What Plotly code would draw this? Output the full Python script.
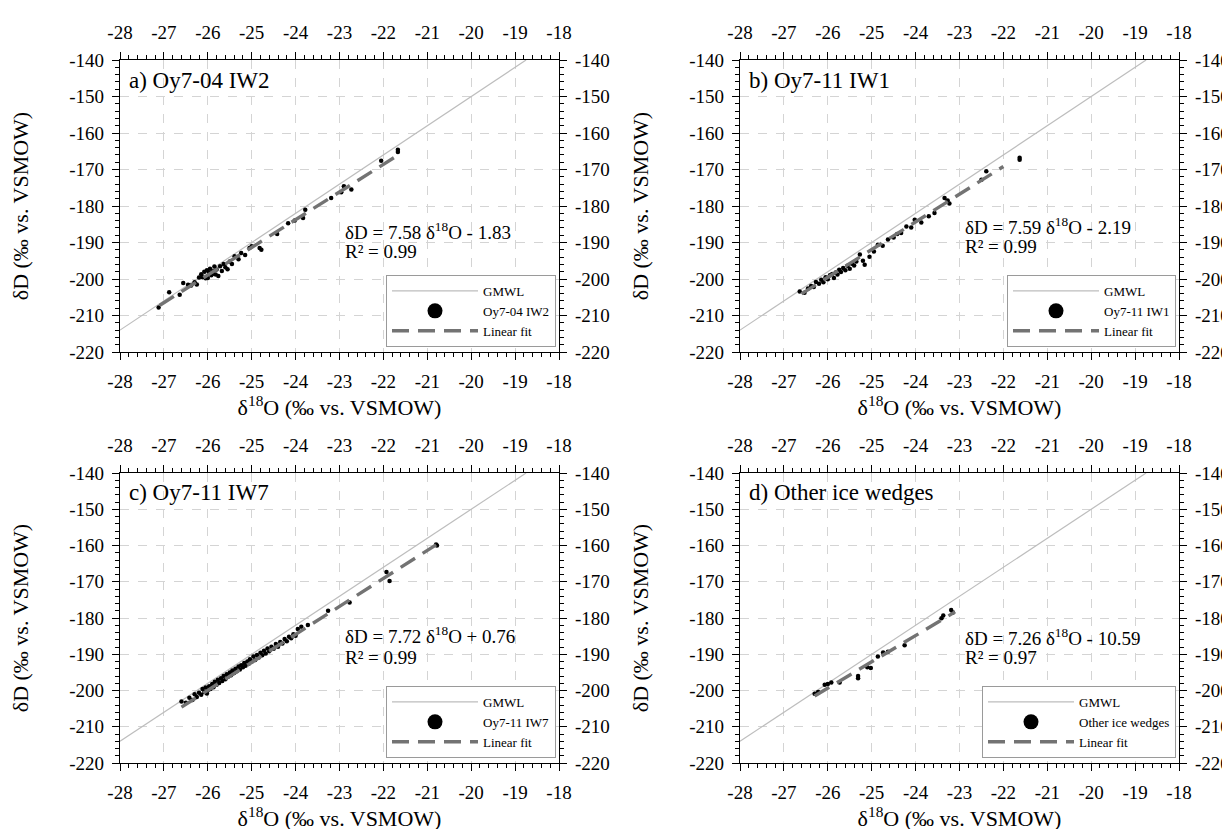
import plotly.graph_objects as go

# ---------------- data ----------------
panel_labels = ["a) Oy7-04 IW2", "b) Oy7-11 IW1", "c) Oy7-11 IW7", "d) Other ice wedges"]
series_names = ["Oy7-04 IW2", "Oy7-11 IW1", "Oy7-11 IW7", "Other ice wedges"]
equations = ["δD = 7.58 δ<sup>18</sup>O - 1.83", "δD = 7.59 δ<sup>18</sup>O - 2.19",
             "δD = 7.72 δ<sup>18</sup>O + 0.76", "δD = 7.26 δ<sup>18</sup>O - 10.59"]
r2_texts = ["R² = 0.99", "R² = 0.99", "R² = 0.99", "R² = 0.97"]

x_ticks = [-28, -27, -26, -25, -24, -23, -22, -21, -20, -19, -18]
x_ticklabels = ["-28", "-27", "-26", "-25", "-24", "-23", "-22", "-21", "-20", "-19", "-18"]
y_ticks = [-220, -210, -200, -190, -180, -170, -160, -150, -140]
y_ticklabels = ["-220", "-210", "-200", "-190", "-180", "-170", "-160", "-150", "-140"]

a_x = [-27.12, -26.88, -26.64, -26.56, -26.45, -26.38, -26.3, -26.25, -26.2, -26.15, -26.12, -26.08,
       -26.05, -26.02, -26.0, -25.97, -25.95, -25.92, -25.9, -25.88, -25.85, -25.82, -25.8, -25.76,
       -25.72, -25.68, -25.64, -25.6, -25.55, -25.5, -25.45, -25.39, -25.3, -25.24, -25.15, -25.05,
       -25.0, -24.82, -24.78, -24.42, -24.17, -24.02, -23.83, -23.78, -23.19, -22.96, -22.9, -22.73,
       -22.05, -21.67, -21.67]
a_y = [-207.8, -203.6, -204.3, -201.1, -201.6, -201.8, -200.9, -201.5, -199.6, -198.7, -199.5, -198.0,
       -199.8, -197.6, -199.7, -198.3, -197.2, -199.0, -198.6, -197.9, -196.6, -198.8, -197.4, -199.2,
       -196.5, -197.8, -195.9, -196.8, -197.3, -195.2, -195.9, -193.8, -194.6, -192.9, -193.4, -191.5,
       -191.0, -191.5, -192.0, -187.7, -184.7, -184.0, -183.3, -181.0, -177.8, -176.2, -174.6, -175.5,
       -167.6, -164.6, -165.2]

b_x = [-26.64, -26.53, -26.45, -26.38, -26.32, -26.27, -26.2, -26.15, -26.1, -26.05, -26.0, -25.95,
       -25.9, -25.86, -25.82, -25.78, -25.74, -25.7, -25.65, -25.6, -25.55, -25.5, -25.45, -25.4,
       -25.35, -25.27, -25.2, -25.16, -25.05, -24.95, -24.86, -24.75, -24.63, -24.5, -24.42, -24.33,
       -24.21, -24.1, -24.02, -23.87, -23.7, -23.57, -23.34, -23.27, -23.23, -22.5, -22.39, -21.63, -21.63]
b_y = [-203.4, -203.8, -202.6, -201.9, -202.2, -200.8, -201.3, -200.2, -200.9, -199.5, -200.1, -199.0,
       -198.6, -199.7, -198.2, -198.8, -197.5, -198.1, -197.0, -197.6, -196.4, -197.2, -195.8, -196.3,
       -195.2, -193.3, -195.0, -196.1, -193.9, -192.5, -190.6, -190.9, -189.2, -188.6, -187.7, -187.4,
       -185.6, -185.9, -183.8, -184.5, -182.8, -181.9, -177.8, -178.5, -179.3, -172.8, -170.5, -166.8, -167.3]

c_x = [-26.6, -26.5, -26.42, -26.35, -26.3, -26.25, -26.2, -26.15, -26.12, -26.08, -26.05, -26.02,
       -26.0, -25.97, -25.94, -25.9, -25.87, -25.84, -25.8, -25.77, -25.74, -25.7, -25.67, -25.64,
       -25.6, -25.57, -25.54, -25.5, -25.47, -25.44, -25.4, -25.37, -25.34, -25.3, -25.27, -25.24,
       -25.2, -25.17, -25.14, -25.1, -25.07, -25.04, -25.0, -24.96, -24.92, -24.88, -24.84, -24.8,
       -24.76, -24.72, -24.68, -24.64, -24.6, -24.55, -24.5, -24.45, -24.4, -24.35, -24.3, -24.25,
       -24.2, -24.15, -24.1, -24.05, -24.0, -23.95, -23.87, -23.72, -23.26, -22.77, -21.93, -21.86,
       -20.8, -20.78]
c_y = [-203.0, -203.4, -202.0, -202.6, -201.0, -201.8, -200.6, -201.2, -199.6, -200.4, -199.2, -200.8,
       -199.9, -198.8, -199.6, -198.2, -199.1, -197.6, -198.4, -197.0, -197.9, -196.6, -197.4, -196.0,
       -196.9, -195.5, -196.2, -195.0, -195.8, -194.5, -195.2, -194.0, -194.7, -193.4, -194.2, -193.0,
       -193.6, -192.4, -193.2, -192.0, -192.6, -191.4, -192.0, -190.6, -191.6, -190.2, -190.9, -189.6,
       -190.3, -189.0, -189.8, -188.4, -189.2, -187.9, -188.5, -187.2, -187.9, -186.6, -187.0, -185.8,
       -186.4, -185.2, -185.6, -184.5, -184.9, -183.0, -182.4, -181.9, -178.0, -175.7, -167.3, -169.8,
       -159.7, -160.0]

d_x = [-26.3, -26.22, -26.07, -26.0, -25.92, -25.73, -25.31, -25.31, -25.1, -25.02, -24.86, -24.74,
       -24.63, -24.25, -23.41, -23.37, -23.19, -23.15]
d_y = [-200.9, -200.4, -198.4, -198.2, -197.8, -197.8, -196.0, -196.6, -193.6, -193.8, -190.6, -189.5,
       -189.3, -187.5, -180.1, -179.3, -177.8, -178.5]

gmwl_x = [-28.0, -18.75]
gmwl_y = [-214.0, -140.0]

fit_x = [[-27.1, -21.6], [-26.6, -22.0], [-26.6, -20.8], [-26.3, -23.1]]
fit_y = [[-207.25, -165.56], [-204.08, -169.17], [-204.59, -159.82], [-201.53, -178.30]]

eq_pos_x = [-22.93, -22.93, -22.93, -22.93]
eq_pos_y = [-186.8, -185.6, -184.8, -185.2]
r2_pos_y = [-192.4, -191.2, -190.9, -191.0]

xs = [a_x, b_x, c_x, d_x]
ys = [a_y, b_y, c_y, d_y]

# ---------------- layout geometry (pixels) ----------------
W, H = 1230, 829
px_x = [(112, 551), (732, 1171), (112, 551), (732, 1171)]
px_y = [(52, 344), (52, 344), (465, 755), (465, 755)]

FONT = "Liberation Serif"
serif_font = lambda size: dict(family=FONT, size=size, color="black")

fig = go.Figure()


def ax_name(kind, i):
    return kind + ("" if i == 1 else str(i))


for p in range(4):
    i = p + 1
    xr, yr = ax_name("x", i), ax_name("y", i)
    xt, yt = "x" + str(i + 4), "y" + str(i + 4)
    lg = "legend" if i == 1 else "legend" + str(i)

    fig.add_trace(go.Scatter(x=gmwl_x, y=gmwl_y, mode="lines", name="GMWL",
                             line=dict(color="#bdbdbd", width=1.2),
                             xaxis=xr, yaxis=yr, legend=lg))
    fig.add_trace(go.Scatter(x=xs[p], y=ys[p], mode="markers", name=series_names[p],
                             marker=dict(color="black", size=4.5), showlegend=False,
                             xaxis=xr, yaxis=yr, legend=lg))
    fig.add_trace(go.Scatter(x=[None], y=[None], mode="markers", name=series_names[p],
                             marker=dict(color="black", size=15),
                             xaxis=xr, yaxis=yr, legend=lg))
    fig.add_trace(go.Scatter(x=fit_x[p], y=fit_y[p], mode="lines", name="Linear fit",
                             line=dict(color="#737373", width=3.4, dash="17px,9px"),
                             xaxis=xr, yaxis=yr, legend=lg))
    # helper traces for mirrored (top / right) labelled axes
    fig.add_trace(go.Scatter(x=[None], y=[None], xaxis=xt, yaxis=yr, showlegend=False,
                             hoverinfo="skip"))
    fig.add_trace(go.Scatter(x=[None], y=[None], xaxis=xr, yaxis=yt, showlegend=False,
                             hoverinfo="skip"))

    xd = [px_x[p][0] / W, px_x[p][1] / W]
    yd = [1 - px_y[p][1] / H, 1 - px_y[p][0] / H]

    def common_x():
        return dict(range=[-28, -18], tickmode="array", tickvals=x_ticks, ticktext=x_ticklabels,
                    showline=True, linecolor="black",
                    linewidth=1.3, ticks="outside", ticklen=7, tickwidth=1.3, tickcolor="black",
                    ticklabelstandoff=5,
                    minor=dict(dtick=0.2, tick0=-28, ticks="outside", ticklen=4, tickwidth=1,
                               tickcolor="black", showgrid=False),
                    tickfont=serif_font(19), zeroline=False, automargin=False)

    def common_y():
        return dict(range=[-220, -140], tickmode="array", tickvals=y_ticks, ticktext=y_ticklabels,
                    showline=True, linecolor="black",
                    linewidth=1.3, ticks="outside", ticklen=7, tickwidth=1.3, tickcolor="black",
                    ticklabelstandoff=4,
                    minor=dict(dtick=2, tick0=-220, ticks="outside", ticklen=4, tickwidth=1,
                               tickcolor="black", showgrid=False),
                    tickfont=serif_font(19), zeroline=False, automargin=False)

    fig.update_layout({
        ax_name("xaxis", i): dict(
            domain=xd, anchor=yr, side="bottom", showgrid=True, griddash="dash",
            gridcolor="#d4d4d4", gridwidth=1,
            title=dict(text="δ<sup>18</sup>O (‰ vs. VSMOW)", standoff=0, font=serif_font(22)),
            **common_x()),
        ax_name("yaxis", i): dict(
            domain=yd, anchor=xr, side="left", showgrid=True, griddash="dash",
            gridcolor="#d4d4d4", gridwidth=1,
            title=dict(text="δD (‰ vs. VSMOW)", standoff=34, font=serif_font(22)),
            **common_y()),
        "xaxis" + str(i + 4): dict(overlaying=xr, anchor=yr, side="top", showgrid=False,
                                   **common_x()),
        "yaxis" + str(i + 4): dict(overlaying=yr, anchor=xr, side="right", showgrid=False,
                                   **common_y()),
        lg: dict(
            x=(px_x[p][1] - 3) / W, y=1 - (px_y[p][1] - 5) / H, xanchor="right", yanchor="bottom",
            bgcolor="white", bordercolor="#9a9a9a", borderwidth=1,
            font=serif_font(13), itemwidth=86, itemsizing="trace", tracegroupgap=0),
    })

    fig.add_annotation(x=-27.85, y=-145.5, xref=xr, yref=yr, text=panel_labels[p],
                       showarrow=False, xanchor="left", yanchor="middle", font=serif_font(23))
    fig.add_annotation(x=eq_pos_x[p], y=eq_pos_y[p], xref=xr, yref=yr, text=equations[p],
                       showarrow=False, xanchor="left", yanchor="middle", font=serif_font(19))
    fig.add_annotation(x=eq_pos_x[p], y=r2_pos_y[p], xref=xr, yref=yr, text=r2_texts[p],
                       showarrow=False, xanchor="left", yanchor="middle", font=serif_font(19))

fig.update_layout(width=W, height=H, margin=dict(l=0, r=0, t=0, b=0), template="none",
                  paper_bgcolor="white", plot_bgcolor="white", showlegend=True,
                  font=serif_font(19))

fig.write_html("out.html")
